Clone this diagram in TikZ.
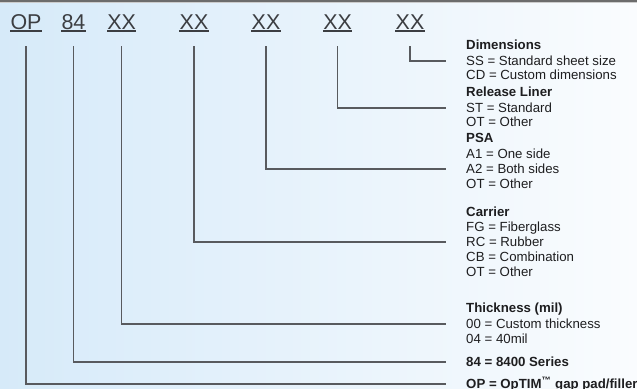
\documentclass[tikz,border=0pt]{standalone}
\usepackage{fontspec}
\setmainfont{Liberation Sans}
\usepackage{tikz}
\usetikzlibrary{calc,positioning}

\definecolor{bgblue}{RGB}{214,234,249}
\definecolor{bgwhite}{RGB}{250,252,254}
\definecolor{codegray}{RGB}{60,62,66}
\definecolor{linegray}{RGB}{88,90,94}
\definecolor{textgray}{RGB}{30,30,32}

\tikzset{
    code/.style={inner sep=0pt, text height=0.72em, text depth=0pt, text=codegray,
        font=\fontsize{18.3}{20}\selectfont},
    row/.style={anchor=west, inner sep=0pt, text height=0.7em, text depth=0pt, text=textgray,
        font=\fontsize{11.3}{13}\selectfont},
    head/.style={row, font=\fontsize{11.3}{13}\selectfont\bfseries},
    conn/.style={draw=linegray, line width=1.3pt},
}

\begin{document}
\begin{tikzpicture}[x=0.03cm, y=-0.03cm]
        % Background
        \useasboundingbox (0,0) rectangle (637,389);
        \shade[left color=bgblue, right color=bgwhite] (0,0) rectangle (637,389);
        \fill[gray!85!black] (0,0) rectangle (637,2);
        \fill[gray!40] (0,2) rectangle (637,3);

        % Part number
        \node[code] (op) at (26,25) {OP};
        \node[code] (ser) at (73.5,25) {84};
        \node[code] (thk) at (121.7,25) {XX};
        \node[code] (car) at (194,25) {XX};
        \node[code] (psa) at (266,25) {XX};
        \node[code] (rel) at (337.7,25) {XX};
        \node[code] (dim) at (410,25) {XX};
        \foreach \c in {op,ser,thk,car,psa,rel,dim}
            \draw[codegray, line width=1.1pt] ([yshift=-0.05cm]\c.south west) -- ([yshift=-0.05cm]\c.south east);

        % Dimensions
        \node[head] (dimH) at (466,45) {Dimensions};
        \node[row] (dimSS) at (466,61) {SS = Standard sheet size};
        \node[row] (dimCD) at (466,75) {CD = Custom dimensions};

        % Release Liner
        \node[head] (relH) at (466,92) {Release Liner};
        \node[row] (relST) at (466,108) {ST = Standard};
        \node[row] (relOT) at (466,122) {OT = Other};

        % PSA
        \node[head] (psaH) at (466,138) {PSA};
        \node[row] (psaA1) at (466,154) {A1 = One side};
        \node[row] (psaA2) at (466,169) {A2 = Both sides};
        \node[row] (psaOT) at (466,184) {OT = Other};

        % Carrier
        \node[head] (carH) at (466,212) {Carrier};
        \node[row] (carFG) at (466,227) {FG = Fiberglass};
        \node[row] (carRC) at (466,242) {RC = Rubber};
        \node[row] (carCB) at (466,257) {CB = Combination};
        \node[row] (carOT) at (466,272) {OT = Other};

        % Thickness
        \node[head] (thkH) at (466,308) {Thickness (mil)};
        \node[row] (thk00) at (466,324) {00 = Custom thickness};
        \node[row] (thk04) at (466,339) {04 = 40mil};

        % Series and product
        \node[head] (ser84) at (466,362) {84 = 8400 Series};
        \node[head] (opOP) at (466,384) {OP = OpTIM\textsuperscript{™} gap pad/filler};

        % Connections
        \draw[conn] (dim.south) ++(0,17) |- ([xshift=-0.6cm]dimSS.west);
        \draw[conn] (rel.south) ++(0,17) |- ([xshift=-0.6cm]relST.west);
        \draw[conn] (psa.south) ++(0,17) |- ([xshift=-0.6cm]psaA2.west);
        \draw[conn] (car.south) ++(0,17) |- ([xshift=-0.6cm]carRC.west);
        \draw[conn] (thk.south) ++(0,17) |- ([xshift=-0.6cm]thk00.west);
        \draw[conn] (ser.south) ++(0,17) |- ([xshift=-0.6cm]ser84.west);
        \draw[conn] (op.south) ++(0,17) |- ([xshift=-0.6cm]opOP.west);
    \end{tikzpicture}
\end{document}
